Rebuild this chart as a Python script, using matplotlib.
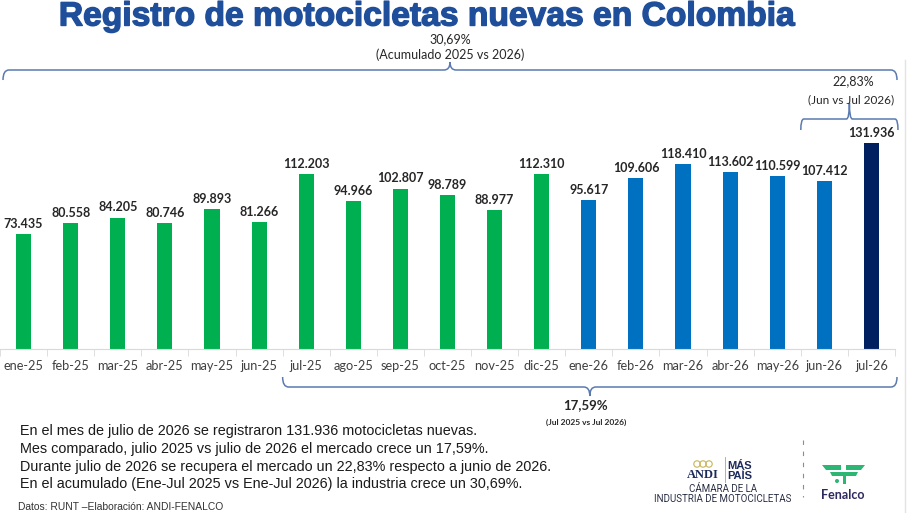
import numpy as np
import matplotlib.pyplot as plt
import matplotlib.patheffects as pe
from matplotlib.path import Path
from matplotlib.patches import PathPatch, Polygon, Circle

# datos del grafico
meses = ['ene-25', 'feb-25', 'mar-25', 'abr-25', 'may-25', 'jun-25', 'jul-25',
         'ago-25', 'sep-25', 'oct-25', 'nov-25', 'dic-25', 'ene-26', 'feb-26',
         'mar-26', 'abr-26', 'may-26', 'jun-26', 'jul-26']
registros = [73435, 80558, 84205, 80746, 89893, 81266, 112203, 94966, 102807,
             98789, 88977, 112310, 95617, 109606, 118410, 113602, 110599,
             107412, 131936]
etiquetas = ['73.435', '80.558', '84.205', '80.746', '89.893', '81.266',
             '112.203', '94.966', '102.807', '98.789', '88.977', '112.310',
             '95.617', '109.606', '118.410', '113.602', '110.599', '107.412',
             '131.936']
anio = ['2025'] * 12 + ['2026'] * 6 + ['actual']

colores = {'2025': '#00B050', '2026': '#0070C0', 'actual': '#002060'}

titulo = 'Registro de motocicletas nuevas en Colombia'
texto = ['En el mes de julio de 2026 se registraron 131.936 motocicletas nuevas.',
         'Mes comparado, julio 2025 vs julio de 2026 el mercado crece un 17,59%.',
         'Durante julio de 2026 se recupera el mercado un 22,83% respecto a junio de 2026.',
         'En el acumulado (Ene-Jul 2025 vs Ene-Jul 2026) la industria crece un 30,69%.']

W, H, DPI = 912, 513, 100
fig = plt.figure(figsize=(W / DPI, H / DPI), dpi=DPI)
fig.patch.set_facecolor('white')

# ejes de las barras
ax = fig.add_axes([0.0, 1 - 349 / H, 895 / W, (349 - 100) / H])
x = np.arange(len(meses))
ax.bar(x, registros, width=0.32, color=[colores[a] for a in anio], zorder=2)
ax.set_xlim(-0.5, len(meses) - 0.5)
ax.set_ylim(0, max(registros) * 1.21)
for xi, v, t in zip(x, registros, etiquetas):
    ax.annotate(t, (xi, v), xytext=(0, 3), textcoords='offset points',
                ha='center', va='bottom', fontsize=9, fontweight='bold',
                family='Lato', color='#262626')

for s in ['top', 'right', 'left']:
    ax.spines[s].set_visible(False)
ax.spines['bottom'].set_color('#D9D9D9')
ax.set_yticks([])
ax.set_xticks(x)
ax.set_xticklabels(meses, fontsize=9.2, family='Lato', color='#404040')
ax.tick_params(axis='x', which='major', length=0, pad=8)
ax.set_xticks(np.arange(-0.5, len(meses) + 0.5, 1), minor=True)
ax.tick_params(axis='x', which='minor', length=5, color='#D9D9D9')
ax.set_facecolor('none')

# capa de anotaciones en pixeles
ov = fig.add_axes([0, 0, 1, 1])
ov.set_xlim(0, W)
ov.set_ylim(H, 0)
ov.axis('off')
ov.patch.set_alpha(0)


def px(xdata):
    # posicion x del eje de barras en pixeles
    return ax.transData.transform((xdata, 0))[0]


def llave(x0, x1, y, dy, tip, r=6, xm=None, color='#5A7AB0'):
    # llave horizontal: extremos a y+dy, punta central a y+tip
    if xm is None:
        xm = (x0 + x1) / 2
    verts = [(x0, y + dy), (x0, y), (x0 + r, y),
             (xm - r, y), (xm, y), (xm, y + tip),
             (xm, y), (xm + r, y),
             (x1 - r, y), (x1, y), (x1, y + dy)]
    codes = [Path.MOVETO, Path.CURVE3, Path.CURVE3,
             Path.LINETO, Path.CURVE3, Path.CURVE3,
             Path.CURVE3, Path.CURVE3,
             Path.LINETO, Path.CURVE3, Path.CURVE3]
    ov.add_patch(PathPatch(Path(verts, codes), fc='none', ec=color, lw=1.1))


# titulo
ov.text(427.5, 25.5, titulo, ha='center', va='baseline', fontsize=24.2,
        fontweight='bold', family='Liberation Sans', color='#1F4E9A',
        path_effects=[pe.withStroke(linewidth=1.0, foreground='#1F4E9A')])

# acumulado
llave(px(-0.5) + 3, px(18.5) + 2, 70, 10, -8)
ov.text(450, 39.5, '30,69%', ha='center', va='center', fontsize=9,
        family='Lato', color='#262626')
ov.text(450, 55, '(Acumulado 2025 vs 2026)', ha='center', va='center',
        fontsize=9, family='Lato', color='#262626')

# junio vs julio
llave(px(16.5), px(18.5) + 3, 119, 11, -16, r=3)
ov.text(853, 81, '22,83%', ha='center', va='center', fontsize=9,
        family='Lato', color='#262626')
ov.text(851, 100, '(Jun vs Jul 2026)', ha='center', va='center', fontsize=8.5,
        family='Lato', color='#262626')

# julio vs julio
llave(px(5.5), px(18.5) + 2, 387, -10, 9)
ov.text(586, 405, '17,59%', ha='center', va='center', fontsize=9.5,
        fontweight='bold', family='Lato', color='#262626')
ov.text(586, 422, '(Jul 2025 vs Jul 2026)', ha='center', va='center',
        fontsize=6, fontweight='bold', family='Lato', color='#262626')

# texto resumen
for i, linea in enumerate(texto):
    ov.text(20, 431 + i * 17.8, linea, ha='left', va='center', fontsize=10.4,
            family='Liberation Sans', color='#1A1A1A')
ov.text(18, 507, 'Datos: RUNT \u2013Elaboración: ANDI-FENALCO', ha='left',
        va='center', fontsize=7.4, family='Liberation Sans', color='#333333')

# logo ANDI
for cx in (697, 703, 709):
    ov.add_patch(Circle((cx, 464), 3.2, fc='none', ec='#C9B458', lw=0.8))
ov.text(703, 475, 'ANDI', ha='center', va='center', fontsize=9,
        fontweight='bold', family='Liberation Serif', color='#1C2A5A')
ov.plot([725, 725], [457, 482], color='#9AA3B5', lw=0.6)
ov.text(740, 466, 'MÁS', ha='center', va='center', fontsize=8,
        fontweight='bold', family='Liberation Sans', color='#1C2A5A')
ov.text(740, 476, 'PAÍS', ha='center', va='center', fontsize=8,
        fontweight='bold', family='Liberation Sans', color='#1C2A5A')
ov.text(723, 489, 'CÁMARA DE LA', ha='center', va='center', fontsize=7,
        family='Roboto', color='#2A2F45')
ov.text(723, 499, 'INDUSTRIA DE MOTOCICLETAS', ha='center', va='center',
        fontsize=7, family='Roboto', color='#2A2F45')
ov.plot([803, 803], [440, 497], color='#8C8C8C', lw=0.8, ls=(0, (4, 6)))

# logo Fenalco
verde = '#2BB673'
ov.add_patch(Polygon([(822, 465), (841, 465), (841, 470), (826, 470)],
                     closed=True, fc=verde, ec='none'))
ov.add_patch(Polygon([(846, 465), (865, 465), (861, 470), (846, 470)],
                     closed=True, fc=verde, ec='none'))
ov.add_patch(Polygon([(830, 472), (858, 472), (856, 476), (846, 476),
                      (846, 484), (843, 484), (843, 476), (832, 476)],
                     closed=True, fc=verde, ec='none'))
ov.add_patch(Circle((837, 481), 2, fc=verde, ec='none'))
ov.text(843, 495, 'Fenalco', ha='center', va='center', fontsize=9,
        fontweight='bold', family='Lato', color='#2E2A5E')

# borde derecho
ov.plot([905, 905], [60, 513], color='#E3E3E3', lw=1)

fig.savefig('out.png', dpi=DPI)
